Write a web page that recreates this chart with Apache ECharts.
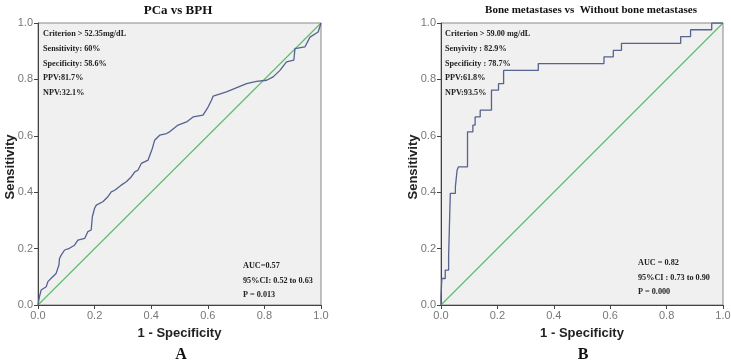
<!DOCTYPE html>
<html>
<head>
<meta charset="utf-8">
<script src="https://cdn.jsdelivr.net/npm/echarts@6/dist/echarts.min.js"></script>
<style>
  html, body { margin: 0; padding: 0; background: #fff; }
  #main { width: 731px; height: 362px; }
</style>
</head>
<body>
<div id="main"></div>
<script>
// panel A: PCa vs BPH (1 - specificity, sensitivity)
const aFpr = [0, 0.005, 0.011, 0.029, 0.035, 0.052, 0.064, 0.074, 0.076, 0.082, 0.094, 0.111, 0.129, 0.141, 0.165, 0.176, 0.188, 0.192, 0.2, 0.206, 0.229, 0.247, 0.259, 0.271, 0.294, 0.312, 0.33, 0.342, 0.353, 0.365, 0.389, 0.404, 0.412, 0.43, 0.454, 0.465, 0.495, 0.525, 0.548, 0.583, 0.601, 0.613, 0.619, 0.666, 0.696, 0.737, 0.772, 0.808, 0.831, 0.855, 0.878, 0.904, 0.908, 0.943, 0.961, 0.99, 1];
const aTpr = [0, 0.029, 0.053, 0.065, 0.083, 0.1, 0.112, 0.142, 0.165, 0.177, 0.195, 0.201, 0.212, 0.23, 0.236, 0.26, 0.266, 0.313, 0.343, 0.354, 0.366, 0.384, 0.401, 0.407, 0.425, 0.437, 0.455, 0.472, 0.478, 0.502, 0.514, 0.555, 0.584, 0.602, 0.608, 0.614, 0.638, 0.649, 0.667, 0.673, 0.702, 0.726, 0.741, 0.756, 0.768, 0.785, 0.793, 0.797, 0.809, 0.832, 0.862, 0.868, 0.909, 0.915, 0.95, 0.968, 1];

// panel B: bone metastases vs without
const bFpr = [0, 0, 0.003, 0.003, 0.015, 0.015, 0.027, 0.027, 0.033, 0.033, 0.051, 0.051, 0.057, 0.057, 0.062, 0.062, 0.094, 0.094, 0.113, 0.113, 0.121, 0.121, 0.139, 0.139, 0.179, 0.179, 0.204, 0.204, 0.222, 0.222, 0.345, 0.345, 0.578, 0.578, 0.611, 0.611, 0.64, 0.64, 0.85, 0.85, 0.885, 0.885, 0.96, 0.96, 1];
const bTpr = [0, 0.03, 0.03, 0.094, 0.094, 0.124, 0.124, 0.171, 0.171, 0.396, 0.396, 0.419, 0.419, 0.478, 0.478, 0.49, 0.49, 0.614, 0.614, 0.638, 0.638, 0.667, 0.667, 0.691, 0.691, 0.762, 0.762, 0.785, 0.785, 0.832, 0.832, 0.856, 0.856, 0.88, 0.88, 0.903, 0.903, 0.928, 0.928, 0.952, 0.952, 0.976, 0.976, 1, 1];

const refX = [0, 1];
const refY = [0, 1];
const tickValues = [0, 0.2, 0.4, 0.6, 0.8, 1.0];

const notesA = ['Criterion > 52.35mg/dL', 'Sensitivity: 60%', 'Specificity: 58.6%', 'PPV:81.7%', 'NPV:32.1%'];
const statsA = ['AUC=0.57', '95%CI: 0.52 to 0.63', 'P = 0.013'];
const notesB = ['Criterion > 59.00 mg/dL', 'Senyivity : 82.9%', 'Specificity : 78.7%', 'PPV:61.8%', 'NPV:93.5%'];
const statsB = ['AUC = 0.82', '95%CI : 0.73 to 0.90', 'P = 0.000'];

const pairs = (xs, ys) => xs.map((x, i) => [x, ys[i]]);

const chart = echarts.init(document.getElementById('main'));

function makeAxis(idx, isX) {
  return {
    type: 'value',
    gridIndex: idx,
    min: tickValues[0],
    max: tickValues[tickValues.length - 1],
    interval: 0.2,
    name: isX ? '1 - Specificity' : 'Sensitivity',
    nameLocation: 'middle',
    nameGap: isX ? 22 : 21,
    nameMoveOverlap: false,
    nameTextStyle: {
      fontFamily: 'Liberation Sans', fontWeight: 'bold', fontSize: 13, color: '#222',
      padding: isX ? 0 : [0, 6, 0, 0]
    },
    axisLine: { show: true, lineStyle: { color: '#444', width: 1 } },
    axisTick: { show: true, length: 4, lineStyle: { color: '#444' } },
    axisLabel: {
      margin: 5,
      fontFamily: 'Liberation Sans',
      fontSize: 11,
      color: '#777',
      formatter: v => v.toFixed(1)
    },
    splitLine: { show: false }
  };
}

function textBlock(lines, x, y, step) {
  return lines.map((t, i) => ({
    type: 'text',
    left: x,
    top: y + i * step,
    style: { text: t, font: 'bold 8.2px "Liberation Serif"', fill: '#222' }
  }));
}

const serifTitle = (size) => ({ fontFamily: 'Liberation Serif', fontWeight: 'bold', fontSize: size, color: '#111' });

const gridStyle = { show: true, backgroundColor: '#f0f0f0', borderColor: '#888', borderWidth: 1, containLabel: false, outerBoundsMode: 'none' };

const option = {
  animation: false,
  backgroundColor: '#fff',
  title: [
    { text: 'PCa vs BPH', left: 173, top: -1, textAlign: 'center', textStyle: serifTitle(13) },
    { text: 'Bone metastases vs  Without bone metastases', left: 586, top: 0, textAlign: 'center', textStyle: serifTitle(11) },
    { text: 'A', left: 176, top: 342, textAlign: 'center', textStyle: serifTitle(16) },
    { text: 'B', left: 578, top: 342, textAlign: 'center', textStyle: serifTitle(16) }
  ],
  grid: [
    { ...gridStyle, left: 38, top: 23, width: 283, height: 282 },
    { ...gridStyle, left: 441, top: 23, width: 282, height: 282 }
  ],
  xAxis: [makeAxis(0, true), makeAxis(1, true)],
  yAxis: [makeAxis(0, false), makeAxis(1, false)],
  series: [
    { type: 'line', xAxisIndex: 0, yAxisIndex: 0, data: pairs(refX, refY), showSymbol: false, lineStyle: { color: '#5cbf6c', width: 1.2 } },
    { type: 'line', xAxisIndex: 0, yAxisIndex: 0, data: pairs(aFpr, aTpr), showSymbol: false, lineStyle: { color: '#56628f', width: 1.3 } },
    { type: 'line', xAxisIndex: 1, yAxisIndex: 1, data: pairs(refX, refY), showSymbol: false, lineStyle: { color: '#5cbf6c', width: 1.2 } },
    { type: 'line', xAxisIndex: 1, yAxisIndex: 1, data: pairs(bFpr, bTpr), showSymbol: false, lineStyle: { color: '#56628f', width: 1.3 } }
  ],
  graphic: [
    ...textBlock(notesA, 43, 30, 14.7),
    ...textBlock(statsA, 243, 262, 14.5),
    ...textBlock(notesB, 445, 30, 14.7),
    ...textBlock(statsB, 638, 259, 14.5)
  ]
};

chart.setOption(option);
</script>
</body>
</html>
